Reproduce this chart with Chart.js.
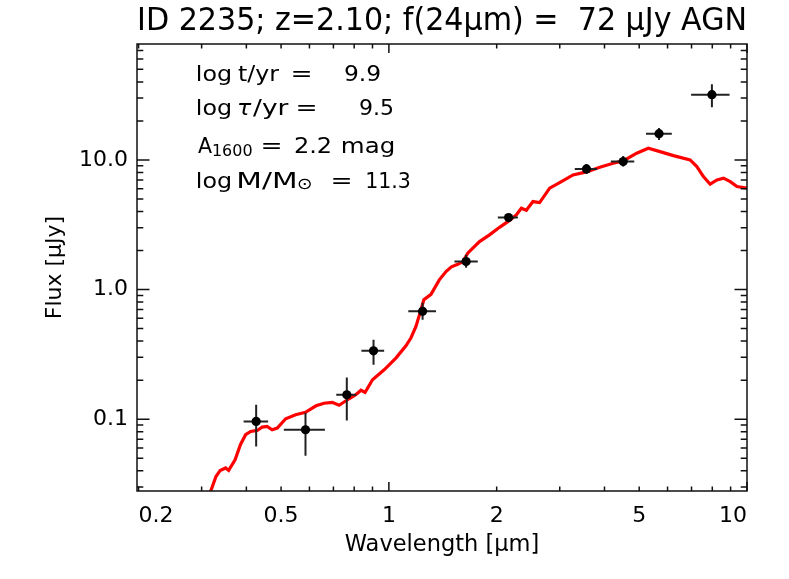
<!DOCTYPE html>
<html>
<head>
<meta charset="utf-8">
<script src="https://cdn.jsdelivr.net/npm/chart.js@4.4.1/dist/chart.umd.min.js"></script>
<style>
html,body{margin:0;padding:0;background:#fff;}
#wrap{width:789px;height:579px;position:relative;}
</style>
</head>
<body>
<div id="wrap"><canvas id="c"></canvas></div>
<script>
// ---------- texts ----------
const titleText = 'ID 2235; z=2.10; f(24μm) =  72 μJy AGN';
const xAxisTitle = 'Wavelength [μm]';
const yAxisTitle = 'Flux [μJy]';

// ---------- model SED (red curve) ----------
const modelWavelength = [0.312,0.329,0.338,0.350,0.357,0.372,0.385,0.398,0.411,0.429,0.443,0.457,0.472,0.488,0.515,0.549,0.585,0.626,0.659,0.695,0.726,0.774,0.808,0.836,0.858,0.900,0.970,1.046,1.116,1.153,1.190,1.229,1.252,1.311,1.383,1.444,1.495,1.557,1.608,1.660,1.791,1.910,2.037,2.173,2.269,2.343,2.420,2.525,2.636,2.812,3.032,3.268,3.563,3.882,4.230,4.511,4.920,5.302,5.717,6.230,6.937,7.244,7.556,7.890,8.241,8.601,8.979,9.376,10.0];
const modelFlux = [0.024,0.0361,0.0402,0.0420,0.0402,0.0486,0.0635,0.0759,0.0804,0.0818,0.0869,0.0879,0.0828,0.0853,0.1007,0.1081,0.1130,0.1268,0.1327,0.1349,0.1280,0.1436,0.1542,0.1671,0.1607,0.2013,0.2404,0.2958,0.3681,0.4246,0.5188,0.6966,0.8337,0.9184,1.188,1.377,1.496,1.564,1.636,1.909,2.344,2.641,3.019,3.417,3.767,4.243,4.083,4.770,4.688,6.053,6.802,7.662,8.081,8.786,9.432,9.825,11.27,12.31,11.59,10.79,10.00,8.878,7.433,6.495,7.013,7.228,6.802,6.225,6.05];

// ---------- photometry with error bars ----------
const obsWavelength   = [0.426,0.585,0.763,0.906,1.242,1.643,2.159,3.563,4.511,5.680,7.980];
const obsWavelengthLo = [0.393,0.509,0.713,0.838,1.133,1.524,2.015,3.304,4.168,5.224,6.982];
const obsWavelengthHi = [0.460,0.663,0.811,0.970,1.354,1.771,2.292,3.815,4.844,6.166,8.939];
const obsFlux   = [0.0960,0.0828,0.1542,0.3368,0.679,1.644,3.591,8.524,9.703,15.95,31.88];
const obsFluxLo = [0.0616,0.0522,0.0977,0.2627,0.584,1.470,3.357,7.802,8.878,14.27,25.49];
const obsFluxHi = [0.1291,0.1120,0.2097,0.4095,0.790,1.852,3.834,9.315,10.74,17.65,38.35];

// ---------- axes ----------
const xRange = [0.198, 10];
const yRange = [0.0279, 78.4];
const xTickValues = [0.2,0.5,1,2,5,10];
const xTickText   = ['0.2','0.5','1','2','5','10'];
const yTickValues = [0.1,1,10];
const yTickText   = ['0.1','1.0','10.0'];
const xMajorTicks = [1,10];
const xMinorTicks = [0.2,0.3,0.4,0.5,0.6,0.7,0.8,0.9,2,3,4,5,6,7,8,9];
const yMajorTicks = [0.1,1,10];
const yMinorTicks = [0.03,0.04,0.05,0.06,0.07,0.08,0.09,0.2,0.3,0.4,0.5,0.6,0.7,0.8,0.9,2,3,4,5,6,7,8,9,20,30,40,50,60,70];

// ---------- annotation text ----------
const annotationWords = [
  ['log','t/yr','=','9.9'],
  ['log','τ','/yr','=','9.5'],
  ['A','1600','=','2.2','mag'],
  ['log','M/M','⊙','=','11.3']
];

// ---------- build datasets ----------
const FONT = 'DejaVu Sans';
const modelPts = modelWavelength.map((w,i)=>({x:w,y:modelFlux[i]}));
const obsPts = obsWavelength.map((w,i)=>({x:w,y:obsFlux[i]}));
const errPts = [];
obsWavelength.forEach((w,i)=>{
  errPts.push({x:obsWavelengthLo[i],y:obsFlux[i]},{x:obsWavelengthHi[i],y:obsFlux[i]},{x:obsWavelengthHi[i],y:null});
  errPts.push({x:w,y:obsFluxLo[i]},{x:w,y:obsFluxHi[i]},{x:w,y:null});
});

// layout of annotation words: ink left / right edges (px) and baseline
const annotationLayout = [
  {base:81,    items:[{l:198,r:230},{l:238,r:280},{l:293,r:317},{l:345,r:380}]},
  {base:115,   items:[{l:198,r:230},{l:238,r:252,italic:true},{l:253,r:290},{l:298,r:320},{l:360,r:393}]},
  {base:152.5, items:[{l:198,r:212},{l:213,r:252,sub:true},{l:263,r:287},{l:295,r:330},{l:343,r:393}]},
  {base:188,   items:[{l:198,r:230},{l:239,r:306,maxS:1.35},{follow:3,w:14,sun:true},{l:333,r:356},{l:367,r:410}]}
];

const framePlugin = {
  id:'frameTicks',
  afterDraw(chart){
    const {ctx, chartArea:a, scales:{x,y}} = chart;
    ctx.save();
    ctx.strokeStyle = '#111';
    ctx.lineWidth = 1.5;
    ctx.strokeRect(a.left, a.top, a.right-a.left, a.bottom-a.top);
    const xt = (vals,len)=>vals.forEach(v=>{
      const p = x.getPixelForValue(v);
      if (p < a.left-0.5 || p > a.right+0.5) return;
      ctx.beginPath();
      ctx.moveTo(p,a.bottom); ctx.lineTo(p,a.bottom-len);
      ctx.moveTo(p,a.top); ctx.lineTo(p,a.top+len);
      ctx.stroke();
    });
    const yt = (vals,len)=>vals.forEach(v=>{
      const p = y.getPixelForValue(v);
      if (p < a.top-0.5 || p > a.bottom+0.5) return;
      ctx.beginPath();
      ctx.moveTo(a.left,p); ctx.lineTo(a.left+len,p);
      ctx.moveTo(a.right,p); ctx.lineTo(a.right-len,p);
      ctx.stroke();
    });
    xt(xMinorTicks,4.5); xt(xMajorTicks,9);
    yt(yMinorTicks,6.3); yt(yMajorTicks,12.5);

    // annotation
    ctx.fillStyle = '#000';
    ctx.textBaseline = 'alphabetic';
    ctx.textAlign = 'left';
    annotationWords.forEach((words,li)=>{
      const L = annotationLayout[li];
      let prevRight = 0;
      words.forEach((w,wi)=>{
        const it = L.items[wi];
        let yb = L.base;
        if (it.sub) { ctx.font = `15px "${FONT}"`; yb += 3.5; }
        else if (it.sun) { ctx.font = `16px "${FONT}"`; yb += 0.5; }
        else if (it.italic) { ctx.font = `italic 22px "${FONT}"`; }
        else { ctx.font = `22px "${FONT}"`; }
        const m = ctx.measureText(w);
        const ink = m.actualBoundingBoxLeft + m.actualBoundingBoxRight;
        let l, r;
        if (it.follow !== undefined) { l = prevRight + it.follow; r = l + it.w; }
        else { l = it.l; r = it.r; }
        let s = ink > 0 ? (r - l) / ink : 1;
        s = Math.max(0.9, Math.min(it.maxS || 1.2, s));
        const x0 = l;
        ctx.save();
        ctx.translate(x0, yb);
        ctx.scale(s, 1);
        ctx.fillText(w, m.actualBoundingBoxLeft, 0);
        ctx.restore();
        prevRight = x0 + ink * s;
      });
    });
    ctx.restore();
  }
};

new Chart(document.getElementById('c'), {
  type:'scatter',
  data:{datasets:[
    {label:'photometry', data:obsPts, showLine:false, pointRadius:4.6, pointHoverRadius:4.6,
     pointBackgroundColor:'#000', pointBorderColor:'#000', pointBorderWidth:0},
    {label:'errors', data:errPts, showLine:true, spanGaps:false, borderColor:'#222', borderWidth:2,
     pointRadius:0, pointHoverRadius:0},
    {label:'model', data:modelPts, showLine:true, borderColor:'#ff0000', borderWidth:3.2,
     pointRadius:0, pointHoverRadius:0, tension:0}
  ]},
  options:{
    responsive:true, maintainAspectRatio:false, animation:false,
    layout:{padding:{left:0,right:42,top:0,bottom:0}},
    plugins:{
      legend:{display:false},
      tooltip:{enabled:false},
      title:{display:true, text:titleText, fullSize:false, color:'#000',
        font:{family:FONT, size:32, weight:'normal', lineHeight:1.2},
        padding:{top:2,bottom:3.6}}
    },
    scales:{
      x:{
        type:'logarithmic', min:xRange[0], max:xRange[1],
        afterBuildTicks:(s)=>{ s.ticks = xTickValues.map(v=>({value:v})); },
        afterFit:(s)=>{ s.height = 88; },
        grid:{display:false, drawTicks:false},
        border:{display:false},
        ticks:{autoSkip:false, maxRotation:0, minRotation:0, padding:12, color:'#000', align:'inner',
          font:{family:FONT, size:22},
          callback:(v,i)=>xTickText[i]},
        title:{display:true, text:xAxisTitle, color:'#000', font:{family:FONT, size:22.5},
          padding:{top:0,bottom:20}}
      },
      y:{
        type:'logarithmic', min:yRange[0], max:yRange[1],
        afterBuildTicks:(s)=>{ s.ticks = yTickValues.map(v=>({value:v})); },
        afterFit:(s)=>{ s.width = 137; },
        grid:{display:false, drawTicks:false},
        border:{display:false},
        ticks:{autoSkip:false, padding:9, color:'#000',
          font:{family:FONT, size:22},
          callback:(v,i)=>yTickText[i]},
        title:{display:true, text:yAxisTitle, color:'#000', font:{family:FONT, size:22},
          padding:{top:42,bottom:0}}
      }
    }
  },
  plugins:[framePlugin]
});
</script>
</body>
</html>
